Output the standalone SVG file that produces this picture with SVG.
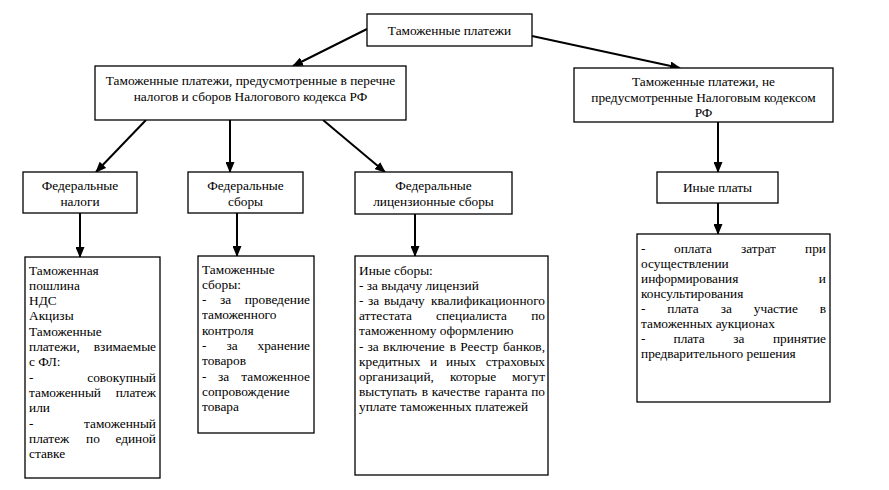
<svg xmlns="http://www.w3.org/2000/svg" width="889" height="490" viewBox="0 0 889 490">
<defs>
<marker id="ah" markerUnits="userSpaceOnUse" markerWidth="11" markerHeight="9" refX="10" refY="4.5" orient="auto">
<path d="M0,0 L11,4.5 L0,9 z" fill="#000"/>
</marker>
<style>
rect{fill:#fff;stroke:#000;stroke-width:1.3}
text{font-family:"Liberation Serif","Times New Roman",serif;font-size:13.33px;fill:#000}
.c{text-anchor:middle}
.e{text-anchor:end}
.m{text-anchor:middle}
#connectors line{stroke:#000;stroke-width:2;marker-end:url(#ah)}
</style>
</defs>
<rect x="0" y="0" width="889" height="490" style="fill:#fff;stroke:none"/>
<g id="connectors">
<line x1="367" y1="29" x2="293" y2="66"/>
<line x1="532" y1="36" x2="680" y2="68"/>
<line x1="146" y1="120" x2="96" y2="172"/>
<line x1="230" y1="120" x2="230" y2="172"/>
<line x1="323" y1="120" x2="385" y2="172"/>
<line x1="718" y1="122" x2="718" y2="172"/>
<line x1="80" y1="213" x2="80" y2="257"/>
<line x1="237" y1="213" x2="237" y2="256"/>
<line x1="415" y1="214" x2="415" y2="256"/>
<line x1="718" y1="203" x2="718" y2="234"/>
</g>
<g id="n-root">
<rect x="367" y="14" width="165" height="32"/>
<text class="c" x="449.5" y="35">Таможенные платежи</text>
</g>
<g id="n-tax">
<rect x="95" y="66" width="311" height="54"/>
<text class="c" x="250.5" y="85">Таможенные платежи, предусмотренные в перечне</text>
<text class="c" x="250.5" y="101">налогов и сборов Налогового кодекса РФ</text>
</g>
<g id="n-nontax">
<rect x="574" y="68" width="259" height="54"/>
<text class="c" x="703.5" y="86">Таможенные платежи, не</text>
<text class="c" x="703.5" y="102">предусмотренные Налоговым кодексом</text>
<text class="c" x="703.5" y="117">РФ</text>
</g>
<g id="n-fednal">
<rect x="23" y="172" width="114" height="41"/>
<text class="c" x="80" y="190">Федеральные</text>
<text class="c" x="80" y="206">налоги</text>
</g>
<g id="n-fedsb">
<rect x="188" y="172" width="115" height="41"/>
<text class="c" x="245.5" y="190">Федеральные</text>
<text class="c" x="245.5" y="206">сборы</text>
</g>
<g id="n-fedlic">
<rect x="355" y="172" width="157" height="42"/>
<text class="c" x="433.5" y="190">Федеральные</text>
<text class="c" x="433.5" y="206">лицензионные сборы</text>
</g>
<g id="n-inplat">
<rect x="657" y="172" width="121" height="31"/>
<text class="c" x="717.5" y="192">Иные платы</text>
</g>
<g id="n-boxA">
<rect x="25" y="257" width="135" height="221"/>
<text x="29" y="274.5">Таможенная</text>
<text x="29" y="289.8">пошлина</text>
<text x="29" y="305.1">НДС</text>
<text x="29" y="320.4">Акцизы</text>
<text x="29" y="335.7">Таможенные</text>
<text x="29" y="351">платежи,</text><text class="e" x="156" y="351">взимаемые</text>
<text x="29" y="366.3">с ФЛ:</text>
<text x="29" y="381.6">-</text><text class="e" x="156" y="381.6">совокупный</text>
<text x="29" y="396.9">таможенный</text><text class="e" x="156" y="396.9">платеж</text>
<text x="29" y="412.2">или</text>
<text x="29" y="427.5">-</text><text class="e" x="156" y="427.5">таможенный</text>
<text x="29" y="442.8">платеж</text><text class="m" x="93" y="442.8">по</text><text class="e" x="156" y="442.8">единой</text>
<text x="29" y="458.1">ставке</text>
</g>
<g id="n-boxB">
<rect x="198" y="256" width="116" height="177"/>
<text x="202" y="273.5">Таможенные</text>
<text x="202" y="288.8">сборы:</text>
<text x="202" y="304.1">-</text><text class="m" x="225.5" y="304.1">за</text><text class="e" x="310" y="304.1">проведение</text>
<text x="202" y="319.4">таможенного</text>
<text x="202" y="334.7">контроля</text>
<text x="202" y="350">-</text><text class="m" x="232" y="350">за</text><text class="e" x="310" y="350">хранение</text>
<text x="202" y="365.3">товаров</text>
<text x="202" y="380.6">-</text><text class="m" x="223.5" y="380.6">за</text><text class="e" x="310" y="380.6">таможенное</text>
<text x="202" y="395.9">сопровождение</text>
<text x="202" y="411.2">товара</text>
</g>
<g id="n-boxC">
<rect x="355" y="256" width="193" height="219"/>
<text x="359" y="275">Иные сборы:</text>
<text x="359" y="290.1">- за выдачу лицензий</text>
<text x="359" y="305.2">-</text><text x="368" y="305.2">за</text><text x="384" y="305.2">выдачу</text><text class="e" x="545" y="305.2">квалификационного</text>
<text x="359" y="320.3">аттестата</text><text class="m" x="471.5" y="320.3">специалиста</text><text class="e" x="545" y="320.3">по</text>
<text x="359" y="335.4">таможенному оформлению</text>
<text x="359" y="350.5">-</text><text x="367.6" y="350.5">за</text><text x="383.1" y="350.5">включение</text><text x="449.8" y="350.5">в</text><text x="460.3" y="350.5">Реестр</text><text class="e" x="545" y="350.5">банков,</text>
<text x="359" y="365.6">кредитных</text><text x="430" y="365.6">и</text><text x="446" y="365.6">иных</text><text class="e" x="545" y="365.6">страховых</text>
<text x="359" y="380.7">организаций,</text><text class="m" x="473" y="380.7">которые</text><text class="e" x="545" y="380.7">могут</text>
<text x="359" y="395.8">выступать</text><text x="421.7" y="395.8">в</text><text x="431.7" y="395.8">качестве</text><text x="484.7" y="395.8">гаранта</text><text class="e" x="545" y="395.8">по</text>
<text x="359" y="410.9">уплате таможенных платежей</text>
</g>
<g id="n-boxD">
<rect x="637" y="234" width="193" height="168"/>
<text x="641" y="252.5">-</text><text x="674" y="252.5">оплата</text><text x="741" y="252.5">затрат</text><text class="e" x="826" y="252.5">при</text>
<text x="641" y="267.5">осуществлении</text>
<text x="641" y="282.5">информирования</text><text class="e" x="826" y="282.5">и</text>
<text x="641" y="297.5">консультирования</text>
<text x="641" y="312.5">-</text><text x="667.3" y="312.5">плата</text><text x="720.7" y="312.5">за</text><text x="753.8" y="312.5">участие</text><text class="e" x="826" y="312.5">в</text>
<text x="641" y="327.5">таможенных аукционах</text>
<text x="641" y="342.5">-</text><text x="673.5" y="342.5">плата</text><text x="733.2" y="342.5">за</text><text class="e" x="826" y="342.5">принятие</text>
<text x="641" y="357.5">предварительного решения</text>
</g>
</svg>
